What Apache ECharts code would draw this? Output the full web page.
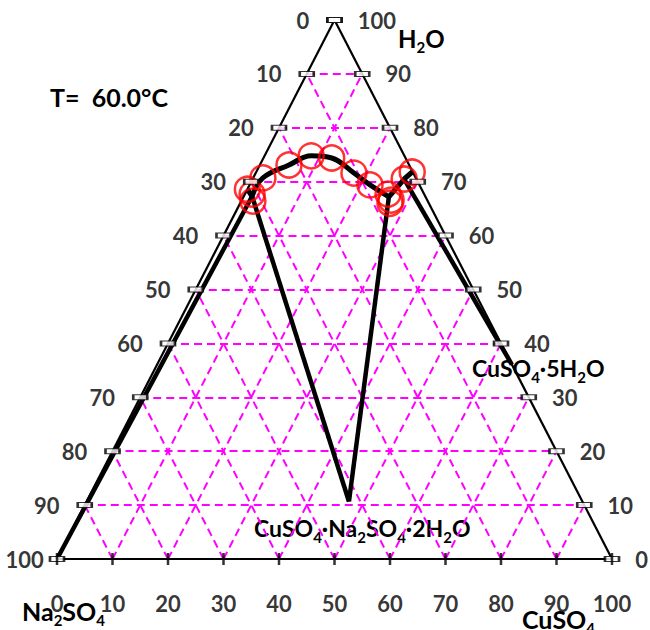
<!DOCTYPE html>
<html><head><meta charset="utf-8">
<script src="https://cdn.jsdelivr.net/npm/echarts@6/dist/echarts.min.js"></script>
<style>html,body{margin:0;padding:0;background:#fff}#c{width:650px;height:630px}</style>
</head><body><div id="c"></div>
<script>
// ---- data (ternary: [CuSO4 %, H2O %], Na2SO4 = 100 - both) ----
const gridSteps = [10,20,30,40,50,60,70,80,90];
const tickSteps = [0,10,20,30,40,50,60,70,80,90,100];
const leftLabels = ['0','10','20','30','40','50','60','70','80','90','100'];   // from top (H2O=100) down
const rightLabels = ['100','90','80','70','60','50','40','30','20','10','0'];  // from top down
const bottomLabels = ['0','10','20','30','40','50','60','70','80','90','100']; // CuSO4 left->right
const measuredPoints = [[0,68.6],[1.3,67.7],[2.1,66.4],[1.75,70.7],[5.25,73.1],[8.4,74.8],[12.3,74.4],[17.7,71.6],[21.7,69.4],[25.8,67.7],[26.9,66.6],[27.0,66.0],[27.3,70.5],[28.1,71.8]];
const branchNa2SO4 = [[0,68.6],[1.5,67.3]];
const branchDoubleSalt = [[1.5,67.3],[1.75,70.7],[5.25,73.1],[8.4,74.8],[12.3,74.4],[17.7,71.6],[21.7,69.4],[26.2,67.2]];
const branchCuSO4 = [[26.2,67.2],[27.3,70.5],[28.1,71.8]];
const tieLines = [[[0,0],[1.5,67.3]],[[1.5,67.3],[47.27,10.67]],[[26.2,67.2],[47.27,10.67]],[[27.3,70.5],[63.92,36.08]]];

// ---- ternary -> cartesian ----
function T(p){ return [p[0] + p[1]/2, p[1]]; }
const FONT = 'Lato';
const chart = echarts.init(document.getElementById('c'), null, {renderer:'svg'});

const gridCoords = [];
gridSteps.forEach(v => {
  gridCoords.push({coords:[T([0,v]), T([100-v,v])]});           // const H2O
  gridCoords.push({coords:[T([v,0]), T([v,100-v])]});           // const CuSO4
  gridCoords.push({coords:[T([100-v,0]), T([0,100-v])]});       // const Na2SO4
});
const edges = [{coords:[T([0,0]),T([0,100])]},{coords:[T([0,100]),T([100,0])]},{coords:[T([0,0]),T([100,0])]}];
const leftPts = tickSteps.map((v,i)=>({value:T([0,100-v]), lab:leftLabels[i],
  label: i===10 ? {distance:5} : undefined}));
const rightEdge = tickSteps.map((v,i)=>({value:T([v,100-v]), lab:rightLabels[i]}));
const bottomPts = tickSteps.map((v,i)=>({value:T([v,0]), lab:bottomLabels[i]}));
const lblStyle = {color:'#000', fontFamily:FONT, fontWeight:'bold', fontSize:22};
const sub = {fontSize:15, fontWeight:'bold', fontFamily:FONT, verticalAlign:'bottom', lineHeight:32};

const option = {
  animation:false,
  grid:{left:57, right:38, top:20, bottom:71},
  xAxis:{type:'value', min:0, max:100, show:false},
  yAxis:{type:'value', min:0, max:100, show:false},
  series:[
    {type:'lines', coordinateSystem:'cartesian2d', silent:true, z:1,
     lineStyle:{color:'#FF00FF', width:2, type:[8,5], opacity:1}, data:gridCoords},
    {type:'lines', coordinateSystem:'cartesian2d', silent:true, z:2,
     lineStyle:{color:'#000', width:2.2, opacity:1}, data:edges},
    {type:'lines', coordinateSystem:'cartesian2d', silent:true, z:3,
     lineStyle:{color:'#000', width:4.5, opacity:1}, data:tieLines.map(s=>({coords:s.map(T)}))},
    {type:'line', data:branchNa2SO4.map(T), smooth:false, symbol:'none', z:4, lineStyle:{color:'#000', width:5}},
    {type:'line', data:branchDoubleSalt.map(T), smooth:0.4, symbol:'none', z:4, lineStyle:{color:'#000', width:5}},
    {type:'line', data:branchCuSO4.map(T), smooth:false, symbol:'none', z:4, lineStyle:{color:'#000', width:5}},
    {type:'scatter', data:measuredPoints.map(T), symbol:'circle', symbolSize:25, z:5,
     itemStyle:{color:'rgba(0,0,0,0)', borderColor:'#FF0000', borderWidth:2.5}},
    {type:'scatter', data:leftPts, symbol:'rect', symbolSize:[14,5], z:6,
     itemStyle:{color:'#fff', borderColor:'#000', borderWidth:1.6},
     label:{show:true, position:'left', distance:17, formatter:p=>p.data.lab, ...lblStyle}},
    {type:'scatter', data:rightEdge, symbol:'rect', symbolSize:[14,5], z:6,
     itemStyle:{color:'#fff', borderColor:'#000', borderWidth:1.6},
     label:{show:true, position:'right', distance:15, formatter:p=>p.data.lab, ...lblStyle}},
    {type:'scatter', data:bottomPts, symbol:'rect', symbolSize:[2.5,12], z:6,
     itemStyle:{color:'#000'},
     label:{show:true, position:'bottom', distance:27, formatter:p=>p.data.lab, ...lblStyle}}
  ],
  graphic:[
    {type:'text', left:50, top:84, style:{text:'T=  60.0°C', fill:'#000', font:'bold 25px Lato'}},
    {type:'text', left:398, top:22, style:{text:'H{s|2}O', fill:'#000', font:'bold 24px Lato', lineHeight:32, rich:{s:sub}}},
    {type:'text', left:472, top:352, style:{text:'CuSO{s|4}·5H{s|2}O', fill:'#000', font:'bold 23px Lato', lineHeight:32, rich:{s:sub}}},
    {type:'text', left:254, top:512, style:{text:'CuSO{s|4}·Na{s|2}SO{s|4}·2H{s|2}O', fill:'#000', font:'bold 23px Lato', lineHeight:32, rich:{s:sub}}},
    {type:'text', left:22, top:595, style:{text:'Na{s|2}SO{s|4}', fill:'#000', font:'bold 25px Lato', lineHeight:32, rich:{s:sub}}},
    {type:'text', left:522, top:603, style:{text:'CuSO{s|4}', fill:'#000', font:'bold 25px Lato', lineHeight:32, rich:{s:sub}}}
  ]
};
chart.setOption(option);
</script>
</body></html>
